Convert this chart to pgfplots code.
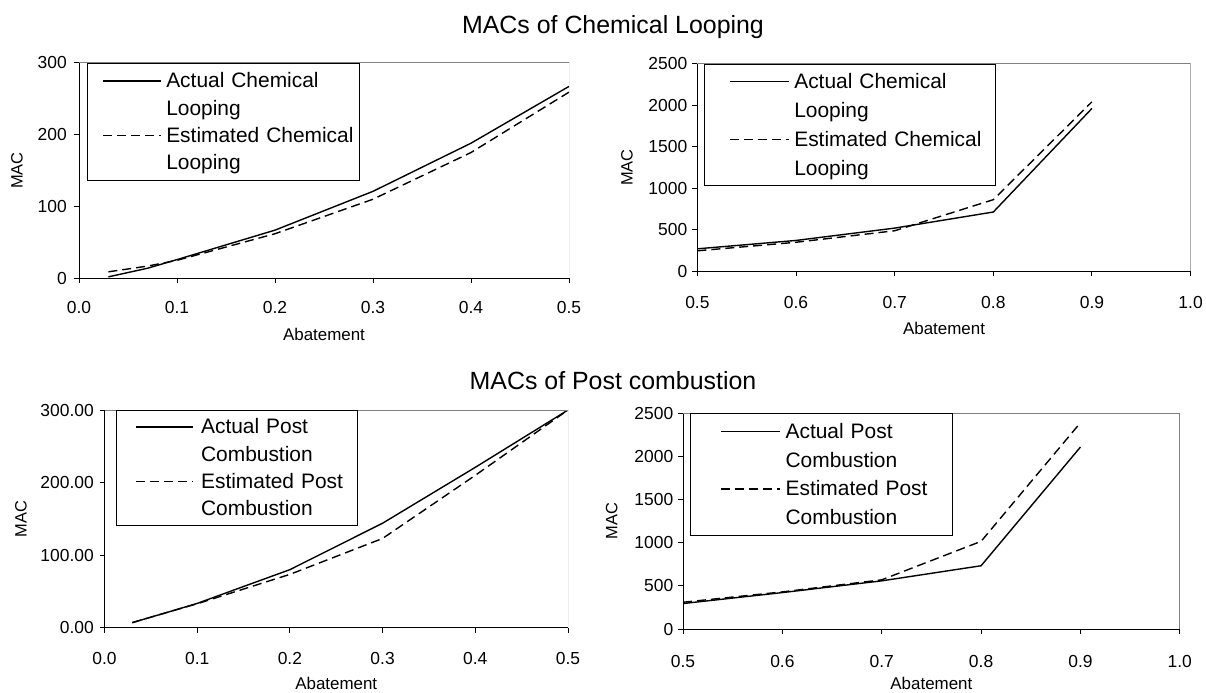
\documentclass[border=0pt]{standalone}
\usepackage{fontspec}
\setmainfont{Liberation Sans}
\usepackage{pgfplots}
\pgfplotsset{compat=1.18}
\pgfplotsset{
  macbase/.style={
    scale only axis,
    axis x line*=bottom, axis y line*=left,
    axis line style={black, line width=1bp},
    tick align=outside, major tick length=5bp,
    tick style={black, line width=1bp},
    /pgf/number format/assume math mode=true,
    /pgf/number format/1000 sep={},
    tick label style={font=\fontsize{17.5}{17.5}\selectfont, inner sep=0pt},
    legend cell align=left,
    legend style={draw=black, line width=0.8bp, fill=white, anchor=north west, inner xsep=0pt,
      nodes={inner sep=0pt, text height=17bp, text depth=3bp, font=\fontsize{21}{25}\selectfont}},
  },
  xfmt/.style={xticklabel={\pgfmathprintnumber[fixed,fixed zerofill,precision=1]{\tick}}},
  solidl/.style={black, line width=1.4bp},
  dashl/.style={black, line width=1.4bp, dash pattern=on 9bp off 5bp},
}
\begin{document}
\begin{tikzpicture}
\useasboundingbox (0bp,0bp) rectangle (1206bp,693bp);

% ---------- Panel 1 ----------
\begin{axis}[macbase, xfmt,
  at={(79bp,414.7bp)}, anchor=south west, width=490bp, height=215.6bp,
  xmin=0, xmax=0.5, ymin=0, ymax=300,
  xtick={0,0.1,0.2,0.3,0.4,0.5}, ytick={0,100,200,300},
  xticklabel style={anchor=north, yshift=-18bp},
  yticklabel style={anchor=east, xshift=-7bp},
  xlabel={Abatement}, ylabel={MAC},
  every axis x label/.style={at={(axis description cs:0.5,-0.2583)}, anchor=center, font=\fontsize{17}{17}\selectfont},
  every axis y label/.style={at={(axis description cs:-0.1265,0.5)}, rotate=90, anchor=center, font=\fontsize{16.5}{16.5}\selectfont},
  legend style={at={(axis description cs:0.0169,1)}, inner ysep=7.85bp, row sep=7.2bp, column sep=4.6bp, nodes={text width=193.3bp}},
  legend image code/.code={\path[draw=none] (0bp,0bp) -- (15.3bp,0bp); \draw[#1] (15.3bp,0bp) -- (73.3bp,0bp);},
]
\addplot[solidl] coordinates {(0.03,2) (0.07,14) (0.1,26) (0.2,67) (0.3,121) (0.4,188) (0.5,267)};
\addlegendentry{Actual Chemical}
\addlegendimage{empty legend}
\addlegendentry{Looping}
\addplot[dashl] coordinates {(0.03,9) (0.07,17) (0.1,25) (0.2,62) (0.3,110) (0.4,175) (0.5,259)};
\addlegendentry{Estimated Chemical}
\addlegendimage{empty legend}
\addlegendentry{Looping}
\draw[gray, line width=1bp] (rel axis cs:0,1) -- (rel axis cs:1,1) -- (rel axis cs:1,0);
\end{axis}

% ---------- Panel 2 ----------
\begin{axis}[macbase, xfmt,
  at={(697.4bp,421.8bp)}, anchor=south west, width=493.2bp, height=207.2bp,
  xmin=0.5, xmax=1.0, ymin=0, ymax=2500,
  xtick={0.5,0.6,0.7,0.8,0.9,1.0}, ytick={0,500,1000,1500,2000,2500},
  xticklabel style={anchor=north, yshift=-20bp},
  yticklabel style={anchor=east, xshift=-5bp},
  xlabel={Abatement}, ylabel={MAC},
  every axis x label/.style={at={(axis description cs:0.5,-0.2775)}, anchor=center, font=\fontsize{17}{17}\selectfont},
  every axis y label/.style={at={(axis description cs:-0.1427,0.5)}, rotate=90, anchor=center, font=\fontsize{16.5}{16.5}\selectfont},
  legend style={at={(axis description cs:0.0142,1)}, inner ysep=7.3bp, row sep=8.9bp, column sep=4.7bp, nodes={text width=201bp}},
  legend image code/.code={\path[draw=none] (0bp,0bp) -- (25.1bp,0bp); \draw[#1] (25.1bp,0bp) -- (84.1bp,0bp);},
]
\addplot[solidl] coordinates {(0.5,270) (0.6,371) (0.7,520) (0.8,714) (0.9,1964)};
\addlegendentry{Actual Chemical}
\addlegendimage{empty legend}
\addlegendentry{Looping}
\addplot[dashl] coordinates {(0.5,246) (0.6,349) (0.7,488) (0.8,863) (0.9,2044)};
\addlegendentry{Estimated Chemical}
\addlegendimage{empty legend}
\addlegendentry{Looping}
\draw[gray, line width=1bp] (rel axis cs:0,1) -- (rel axis cs:1,1) -- (rel axis cs:1,0);
\end{axis}

% ---------- Panel 3 ----------
\begin{axis}[macbase, xfmt,
  at={(104.5bp,65.3bp)}, anchor=south west, width=463.5bp, height=217.7bp,
  xmin=0, xmax=0.5, ymin=0, ymax=300,
  xtick={0,0.1,0.2,0.3,0.4,0.5}, ytick={0,100,200,300},
  yticklabel={\pgfmathprintnumber[fixed,fixed zerofill,precision=2]{\tick}},
  xticklabel style={anchor=north, yshift=-19bp},
  yticklabel style={anchor=east, xshift=-5.5bp},
  xlabel={Abatement}, ylabel={MAC},
  every axis x label/.style={at={(axis description cs:0.5,-0.254)}, anchor=center, font=\fontsize{17}{17}\selectfont},
  every axis y label/.style={at={(axis description cs:-0.180,0.5)}, rotate=90, anchor=center, font=\fontsize{16.5}{16.5}\selectfont},
  legend style={at={(axis description cs:0.0248,1)}, inner ysep=6.55bp, row sep=7.3bp, column sep=7bp, nodes={text width=156bp}},
  legend image code/.code={\path[draw=none] (0bp,0bp) -- (20bp,0bp); \draw[#1] (20bp,0bp) -- (77bp,0bp);},
]
\addplot[solidl] coordinates {(0.03,7) (0.07,22) (0.1,33.5) (0.2,80) (0.3,144) (0.4,221) (0.5,300)};
\addlegendentry{Actual Post}
\addlegendimage{empty legend}
\addlegendentry{Combustion}
\addplot[dashl] coordinates {(0.03,7) (0.07,22) (0.1,33) (0.2,73.5) (0.3,123) (0.4,210) (0.5,300)};
\addlegendentry{Estimated Post}
\addlegendimage{empty legend}
\addlegendentry{Combustion}
\draw[gray, line width=1bp] (rel axis cs:0,1) -- (rel axis cs:1,1) -- (rel axis cs:1,0);
\end{axis}

% ---------- Panel 4 ----------
\begin{axis}[macbase, xfmt,
  at={(683bp,64bp)}, anchor=south west, width=496.8bp, height=215.7bp,
  xmin=0.5, xmax=1.0, ymin=0, ymax=2500,
  xtick={0.5,0.6,0.7,0.8,0.9,1.0}, ytick={0,500,1000,1500,2000,2500},
  xticklabel style={anchor=north, yshift=-21bp},
  yticklabel style={anchor=east, xshift=-4.6bp},
  xlabel={Abatement}, ylabel={MAC},
  every axis x label/.style={at={(axis description cs:0.5,-0.2527)}, anchor=center, font=\fontsize{17}{17}\selectfont},
  every axis y label/.style={at={(axis description cs:-0.1437,0.5)}, rotate=90, anchor=center, font=\fontsize{16.5}{16.5}\selectfont},
  legend style={at={(axis description cs:0.0135,1)}, inner ysep=7.8bp, row sep=8.7bp, column sep=4.9bp, nodes={text width=167bp}},
  legend image code/.code={\path[draw=none] (0bp,0bp) -- (30.9bp,0bp); \draw[#1] (30.9bp,0bp) -- (89.9bp,0bp);},
]
\addplot[solidl] coordinates {(0.5,295) (0.6,422) (0.7,558) (0.8,733) (0.9,2109)};
\addlegendentry{Actual Post}
\addlegendimage{empty legend}
\addlegendentry{Combustion}
\addplot[dashl] coordinates {(0.5,310) (0.6,430) (0.7,570) (0.8,1016) (0.9,2391)};
\addlegendentry{Estimated Post}
\addlegendimage{empty legend}
\addlegendentry{Combustion}
\draw[gray, line width=1bp] (rel axis cs:0,1) -- (rel axis cs:1,1) -- (rel axis cs:1,0);
\end{axis}

% ---------- Titles ----------
\node[anchor=base, font=\fontsize{25}{25}\selectfont, inner sep=0pt] at (613bp,659.7bp) {MACs of Chemical Looping};
\node[anchor=base, font=\fontsize{25}{25}\selectfont, inner sep=0pt] at (613bp,303.5bp) {MACs of Post combustion};
\end{tikzpicture}
\end{document}
